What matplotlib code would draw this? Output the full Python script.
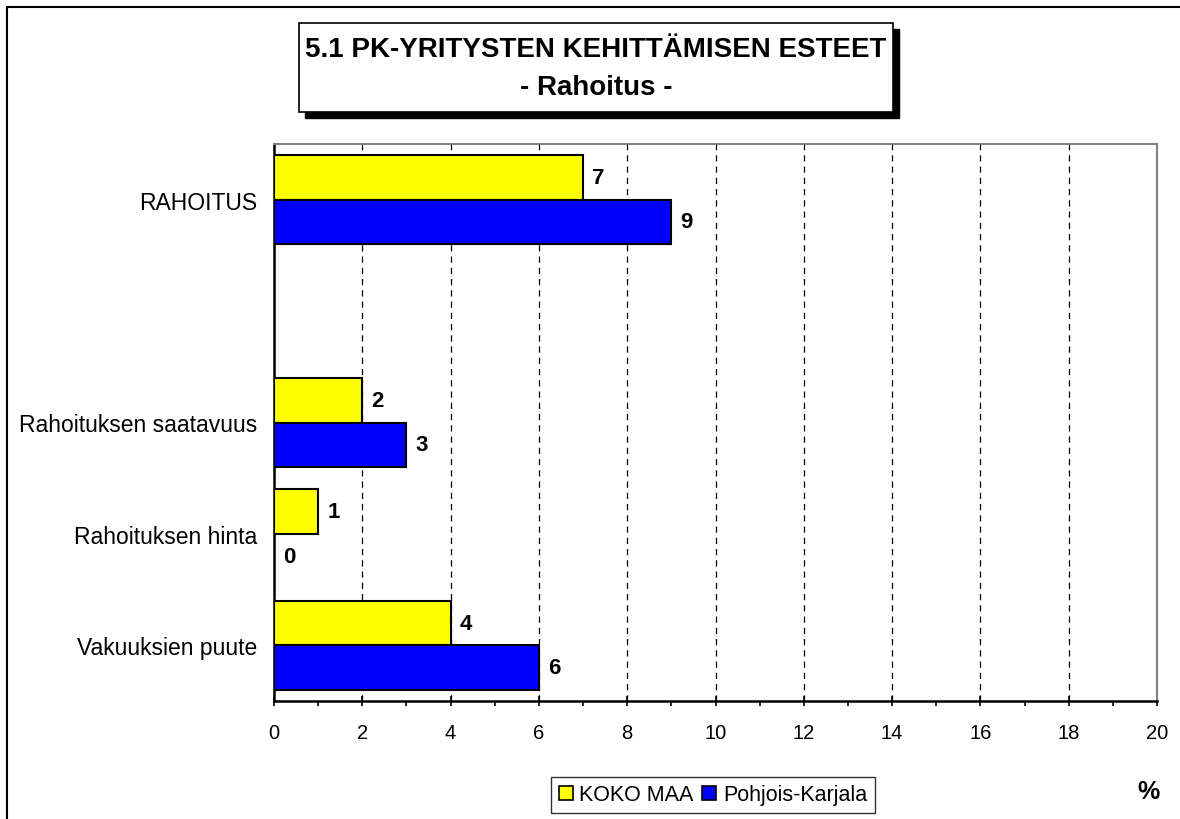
import numpy as np
import matplotlib
matplotlib.use("Agg")
import matplotlib.pyplot as plt
from matplotlib.patches import Rectangle, Patch

plt.rcParams['font.family'] = ['Liberation Sans', 'DejaVu Sans']

# ---- data ----
categories = ["RAHOITUS", "", "Rahoituksen saatavuus", "Rahoituksen hinta", "Vakuuksien puute"]
koko_maa = [7, np.nan, 2, 1, 4]
pohjois_karjala = [9, np.nan, 3, 0, 6]
series_names = ["KOKO MAA", "Pohjois-Karjala"]
series_colors = ["#FFFF00", "#0000FF"]
x_ticks = list(range(0, 21, 2))
title_line1 = "5.1 PK-YRITYSTEN KEHITTÄMISEN ESTEET"
title_line2 = "- Rahoitus -"

W, H = 1180, 820
fig = plt.figure(figsize=(W / 100, H / 100), dpi=100)

def fx(px):
    return px / W

def fy(py):
    return 1 - py / H

# outer border (left and top visible)
fig.patches.append(Rectangle((fx(7), fy(900)), fx(1200), (900 - 8) / H, transform=fig.transFigure,
                             fill=False, edgecolor="black", linewidth=1.5))

ax = fig.add_axes([fx(274), fy(702), fx(1157 - 274), (702 - 145) / H])

pos = np.arange(len(categories))
bh = 0.4
for vals, off, col in zip([koko_maa, pohjois_karjala], [-bh / 2, bh / 2], series_colors):
    v = np.array(vals, dtype=float)
    m = ~np.isnan(v)
    ax.barh(pos[m] + off, v[m], height=bh, color=col, edgecolor="black", linewidth=1.5, zorder=3)
    for y, val in zip(pos[m] + off, v[m]):
        ax.annotate(f"{int(val)}", xy=(val, y), xytext=(9, 0), textcoords="offset pixels",
                    ha="left", va="center", fontsize=16, fontweight="bold", zorder=4)

ax.set_xlim(0, 20)
ax.set_ylim(len(categories) - 0.5, -0.5)
ax.set_xticks(x_ticks)
ax.set_xticks(np.arange(1, 20, 2), minor=True)
ax.tick_params(axis="x", which="major", direction="inout", length=7, width=1.2, labelsize=14.5, pad=12)
ax.tick_params(axis="x", which="minor", direction="out", length=3.6, width=1.2)
ax.set_yticks(pos)
ax.set_yticklabels(categories, fontsize=16.5)
ax.tick_params(axis="y", length=0, pad=12)

for g in x_ticks[1:-1]:
    ax.axvline(g, color="black", linewidth=0.9, linestyle=(0, (5, 4)), zorder=1)

ax.spines["left"].set_color("black")
ax.spines["bottom"].set_color("black")
ax.spines["left"].set_linewidth(1.8)
ax.spines["bottom"].set_linewidth(1.8)
ax.spines["top"].set_color("#808080")
ax.spines["right"].set_color("#808080")
ax.spines["top"].set_linewidth(1.5)
ax.spines["right"].set_linewidth(1.5)

# title box with shadow
bx0, by0, bx1, by1 = 299, 24, 893, 113
fig.patches.append(Rectangle((fx(bx0 + 6), fy(by1 + 6)), fx(bx1 - bx0), (by1 - by0) / H,
                             transform=fig.transFigure, facecolor="black", edgecolor="black"))
fig.patches.append(Rectangle((fx(bx0), fy(by1)), fx(bx1 - bx0), (by1 - by0) / H,
                             transform=fig.transFigure, facecolor="white", edgecolor="black", linewidth=1.2))
fig.text(fx((bx0 + bx1) / 2), fy(50), title_line1, ha="center", va="center",
         fontsize=20, fontweight="bold")
fig.text(fx((bx0 + bx1) / 2), fy(88), title_line2, ha="center", va="center",
         fontsize=20, fontweight="bold")

# legend
handles = [Patch(facecolor=c, edgecolor="black", linewidth=1.2) for c in series_colors]
leg = fig.legend(handles, series_names, loc="center", bbox_to_anchor=(fx(713), fy(796)),
                 ncol=2, fontsize=15.5, frameon=True, fancybox=False, edgecolor="black",
                 handlelength=0.65, handleheight=0.65, handletextpad=0.3, columnspacing=0.4,
                 borderpad=0.35, borderaxespad=0)
leg.get_frame().set_linewidth(1.0)

fig.text(fx(1148), fy(792), "%", ha="center", va="center", fontsize=18, fontweight="bold")

fig.savefig("out.png", dpi=100)
